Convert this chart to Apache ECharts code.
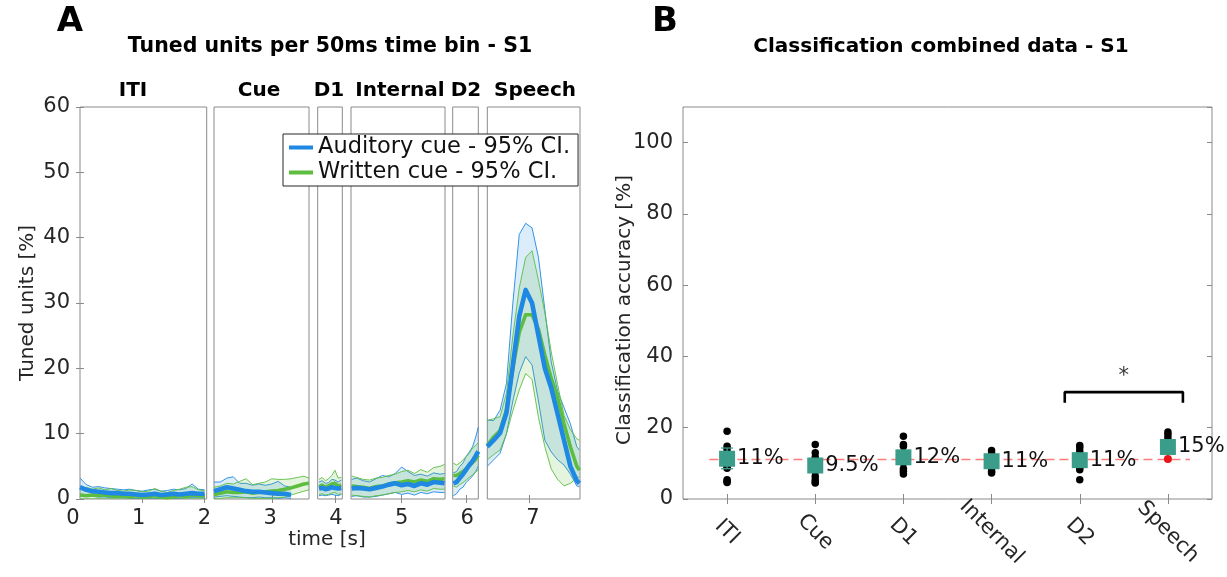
<!DOCTYPE html>
<html><head><meta charset="utf-8">
<script src="https://cdn.jsdelivr.net/npm/echarts@6/dist/echarts.min.js"></script>
<style>html,body{margin:0;padding:0;background:#fff}#c{width:1227px;height:577px}</style>
</head><body><div id="c"></div>
<script>
// ---------------- Panel A data (tuned units, %) ----------------
const segNames = ['ITI', 'Cue', 'D1', 'Internal', 'D2', 'Speech'];

const itiT = [0, 0.1, 0.2, 0.3, 0.4, 0.5, 0.6, 0.7, 0.8, 0.9, 1.0, 1.1, 1.2, 1.3, 1.4, 1.5, 1.6, 1.7, 1.8, 1.9, 2.0];
const itiAudMean = [1.8, 1.4, 1.2, 1.1, 1.0, 0.9, 0.9, 0.8, 0.8, 0.7, 0.6, 0.7, 0.8, 0.6, 0.7, 0.8, 0.7, 0.8, 0.9, 0.8, 0.8];
const itiAudHi = [3.2, 2.2, 1.8, 1.9, 1.7, 1.6, 1.5, 1.4, 1.5, 1.3, 1.2, 1.4, 1.5, 1.2, 1.3, 1.5, 1.4, 1.6, 2.3, 1.5, 1.4];
const itiAudLo = [0.6, 0.5, 0.4, 0.3, 0.3, 0.2, 0.2, 0.2, 0.1, 0.1, 0.0, 0.1, 0.1, 0.0, 0.1, 0.1, 0.1, 0.2, 0.2, 0.2, 0.2];
const itiWriMean = [0.6, 0.5, 0.6, 0.5, 0.6, 0.5, 0.4, 0.5, 0.4, 0.5, 0.3, 0.4, 0.5, 0.3, 0.2, 0.4, 0.5, 0.4, 0.6, 0.5, 0.5];
const itiWriHi = [1.6, 1.8, 1.5, 1.7, 1.4, 1.6, 1.3, 1.2, 1.4, 1.3, 1.1, 1.2, 1.6, 1.2, 1.0, 1.3, 1.5, 1.8, 1.9, 1.4, 1.3];
const itiWriLo = [0, 0, 0, 0, 0, 0, 0, 0, 0, 0, 0, 0, 0, 0, 0, 0, 0, 0, 0, 0, 0];

const cueT = [2.1, 2.2, 2.3, 2.4, 2.5, 2.6, 2.7, 2.8, 2.9, 3.0, 3.1, 3.2, 3.3, 3.4, 3.5, 3.58];
const cueAudMean = [1.2, 1.5, 1.8, 1.6, 1.4, 1.2, 1.1, 1.1, 1.0, 0.9, 0.8, 0.8, 0.6, null, null, null];
const cueAudHi = [2.6, 2.6, 3.2, 3.4, 2.4, 2.4, 2.1, 2.3, 2.1, 2.3, 2.7, 2.0, 1.8, null, null, null];
const cueAudLo = [0.3, 0.4, 0.5, 0.4, 0.3, 0.2, 0.2, 0.3, 0.2, 0.2, 0.1, 0.2, 0.1, null, null, null];
const cueWriMean = [0.7, 0.9, 1.1, 1.0, 1.0, 1.1, 0.9, 1.0, 1.1, 1.2, 1.3, 1.5, 1.7, 2.0, 2.3, 2.4];
const cueWriHi = [1.8, 2.0, 2.4, 2.3, 2.7, 3.1, 2.2, 2.4, 2.6, 3.1, 3.0, 3.0, 3.1, 3.3, 3.5, 3.2];
const cueWriLo = [0.1, 0.1, 0.2, 0.2, 0.2, 0.2, 0.1, 0.1, 0.1, 0.1, 0.2, 0.3, 0.6, 0.9, 1.2, 1.4];

const d1T = [3.75, 3.8, 3.85, 3.9, 3.95, 4.0, 4.05, 4.1];
const d1AudMean = [1.6, 1.7, 1.5, 1.6, 1.8, 1.7, 1.6, 1.7];
const d1AudHi = [2.6, 2.8, 2.4, 2.5, 3.0, 2.9, 2.6, 2.9];
const d1AudLo = [0.5, 0.6, 0.5, 0.6, 0.7, 0.6, 0.5, 0.7];
const d1WriMean = [1.9, 2.1, 1.8, 2.0, 2.3, 2.4, 2.0, 2.1];
const d1WriHi = [3.0, 3.3, 2.8, 3.1, 3.6, 4.4, 3.2, 3.3];
const d1WriLo = [0.7, 0.8, 0.6, 0.7, 0.9, 1.0, 0.7, 0.8];

const intT = [4.22, 4.3, 4.4, 4.5, 4.6, 4.7, 4.8, 4.9, 5.0, 5.1, 5.2, 5.3, 5.4, 5.5, 5.6, 5.67];
const intAudMean = [1.6, 1.7, 1.6, 1.5, 1.7, 1.9, 2.2, 2.4, 2.1, 2.3, 2.0, 2.4, 2.2, 2.6, 2.5, 2.4];
const intAudHi = [3.0, 3.2, 2.8, 2.6, 3.1, 3.6, 3.4, 3.9, 4.9, 4.2, 3.6, 3.8, 3.5, 4.0, 3.8, 3.9];
const intAudLo = [0.4, 0.5, 0.3, 0.3, 0.4, 0.6, 0.8, 1.0, 0.7, 0.9, 0.6, 1.0, 0.8, 1.1, 1.0, 1.0];
const intWriMean = [2.0, 1.9, 1.8, 1.6, 1.9, 2.0, 2.3, 2.5, 2.6, 2.8, 2.6, 2.9, 2.7, 3.1, 3.0, 3.1];
const intWriHi = [3.5, 3.3, 3.0, 2.9, 3.2, 3.3, 3.6, 3.8, 4.2, 4.4, 3.9, 4.5, 4.1, 4.8, 5.0, 5.3];
const intWriLo = [0.6, 0.5, 0.4, 0.3, 0.5, 0.6, 0.8, 1.0, 1.1, 1.3, 1.1, 1.4, 1.2, 1.6, 1.5, 1.5];

const d2T = [5.8, 5.85, 5.9, 5.95, 6.0, 6.05, 6.1, 6.15, 6.19];
const d2AudMean = [2.4, 2.6, 3.2, 3.8, 4.5, 5.2, 5.8, 6.6, 7.3];
const d2AudHi = [4.0, 4.2, 5.0, 5.5, 6.5, 7.2, 8.0, 9.5, 11.0];
const d2AudLo = [0.5, 0.8, 1.5, 1.8, 2.5, 3.0, 3.5, 4.2, 5.0];
const d2WriMean = [3.6, 3.6, 3.9, 4.2, 4.6, 5.1, 5.6, 6.1, 6.7];
const d2WriHi = [5.5, 5.2, 5.5, 6.0, 6.5, 7.0, 7.8, 8.2, 8.6];
const d2WriLo = [2.0, 1.8, 2.2, 2.5, 2.9, 3.3, 3.7, 4.1, 4.5];

const spT = [6.35, 6.45, 6.55, 6.65, 6.75, 6.85, 6.95, 7.05, 7.15, 7.25, 7.35, 7.45, 7.55, 7.65, 7.75, 7.79];
const spAudMean = [8.0, 9.0, 10.1, 13.2, 20.5, 28.0, 32.0, 30.0, 25.0, 20.0, 17.0, 13.0, 9.0, 5.0, 2.8, 2.4];
const spAudHi = [12.1, 12.0, 13.6, 17.7, 30.0, 40.5, 42.2, 41.5, 37.0, 29.0, 21.0, 16.5, 14.0, 11.5, 8.0, 7.5];
const spAudLo = [5.0, 6.0, 7.0, 10.0, 15.0, 19.3, 21.8, 20.5, 15.0, 9.0, 7.2, 6.0, 5.2, 3.8, 2.0, 1.9];
const spWriMean = [8.2, 9.5, 10.5, 13.6, 20.0, 25.5, 28.2, 28.2, 26.0, 22.0, 18.5, 15.5, 11.5, 8.0, 5.0, 4.4];
const spWriHi = [12.0, 12.3, 12.6, 16.2, 25.0, 32.3, 37.0, 38.0, 33.5, 28.5, 22.5, 17.5, 12.8, 10.6, 9.2, 9.0];
const spWriLo = [6.0, 6.8, 7.5, 10.0, 13.5, 16.7, 19.2, 18.3, 12.5, 8.0, 4.6, 3.0, 2.0, 2.4, 3.2, 3.4];

const yTicksA = { min: 0, max: 60, step: 10 };
const timeTickMax = 7;

// ---------------- Panel B data (classification accuracy, %) ----------------
const bCats = ['ITI', 'Cue', 'D1', 'Internal', 'D2', 'Speech'];
const bMeans = [11.3, 9.4, 11.7, 10.6, 10.9, 14.6];
const bErrLo = [8.5, 8.0, 10.0, 9.3, 9.4, 13.2];
const bErrHi = [14.3, 11.0, 13.4, 12.0, 12.5, 16.0];
const bLabels = ['11%', '9.5%', '12%', '11%', '11%', '15%'];
const dotsITI = [19.0, 14.8, 13.9, 12.0, 10.5, 9.2, 8.6, 5.4, 5.0, 4.6];
const dotsCue = [15.3, 13.0, 11.7, 10.5, 9.0, 7.8, 6.4, 5.4, 4.8, 4.5];
const dotsD1 = [17.6, 15.3, 14.8, 13.0, 11.5, 10.1, 8.5, 7.8, 7.0];
const dotsInternal = [13.6, 12.8, 12.0, 11.0, 10.0, 9.5, 8.7, 7.8, 7.3];
const dotsD2 = [15.0, 14.4, 13.4, 12.0, 10.5, 9.5, 8.7, 8.2, 5.4];
const dotsSpeech = [18.8, 18.1, 17.2, 16.0, 15.0, 14.0, 13.5];
const redDotCats = ['Speech'];
const redDotVals = [11.2];
const chanceLevel = 11.1;
const chanceFrom = 0.8, chanceTo = 6.25;
const sigFrom = 4.83, sigTo = 6.17, sigTop = 30, sigLegBottom = 27, sigStarY = 34.5;

// ---------------- layout / style ----------------
const FF = 'DejaVu Sans';
const TXT = '#262626';
const BOX = '#8a8a8a';
const BLUE = '#1f88e3', GREEN = '#5cbd3f';
const BLUE_FILL = 'rgba(31,136,227,0.16)', GREEN_FILL = 'rgba(92,189,63,0.17)';
const TEAL = '#3a9d89';

const boxPx = [[80, 206.7], [214, 309], [317.7, 342.3], [351, 445], [452.7, 478.3], [487.3, 580]];
const boxTime = [[0, 2.034], [2.1, 3.58], [3.73, 4.115], [4.21, 5.677], [5.79, 6.19], [6.35, 7.8]];
const boxTicks = [[1, 2], [3], [4], [5], [6], [7]];
const segLabelX = [133, 259, 329, 400, 466, 535];
const plotTop = 107, plotH = 392;

const segData = [
  [itiT, itiAudMean, itiAudLo, itiAudHi, itiWriMean, itiWriLo, itiWriHi],
  [cueT, cueAudMean, cueAudLo, cueAudHi, cueWriMean, cueWriLo, cueWriHi],
  [d1T, d1AudMean, d1AudLo, d1AudHi, d1WriMean, d1WriLo, d1WriHi],
  [intT, intAudMean, intAudLo, intAudHi, intWriMean, intWriLo, intWriHi],
  [d2T, d2AudMean, d2AudLo, d2AudHi, d2WriMean, d2WriLo, d2WriHi],
  [spT, spAudMean, spAudLo, spAudHi, spWriMean, spWriLo, spWriHi]
];

const grids = [], xAxes = [], yAxes = [], series = [];

function band(i, t, lo, hi, stroke, fill, z) {
  const data = t.map((x, k) => [x, lo[k], hi[k]]);
  return {
    type: 'custom', name: 'band', xAxisIndex: 2 * i, yAxisIndex: 2 * i, z, silent: true, clip: true,
    data, encode: { x: 0, y: [1, 2] },
    renderItem(params, api) {
      if (params.dataIndex !== 0) return null;
      const up = [], dn = [];
      for (const d of data) {
        if (d[1] == null || d[2] == null) continue;
        up.push(api.coord([d[0], d[2]]));
        dn.push(api.coord([d[0], d[1]]));
      }
      const poly = up.concat(dn.slice().reverse());
      return { type: 'group', children: [
        { type: 'polygon', shape: { points: poly }, style: { fill, stroke: null } },
        { type: 'polyline', shape: { points: up }, style: { stroke, lineWidth: 0.9, fill: null } },
        { type: 'polyline', shape: { points: dn }, style: { stroke, lineWidth: 0.9, fill: null } }
      ] };
    }
  };
}
function meanLine(i, t, v, name, color, width, z) {
  return { type: 'line', name, xAxisIndex: 2 * i, yAxisIndex: 2 * i, z, silent: true, clip: true,
    data: t.map((x, k) => [x, v[k]]), showSymbol: false, symbol: 'none', connectNulls: false,
    lineStyle: { color, width, join: 'round' }, itemStyle: { color } };
}

for (let i = 0; i < 6; i++) {
  const [L, R] = boxPx[i];
  grids.push({ left: L, top: plotTop, width: R - L, height: plotH, show: true, borderColor: BOX, borderWidth: 1,
    backgroundColor: 'rgba(0,0,0,0)', containLabel: false, outerBoundsMode: 'none' });
  const xCommon = { gridIndex: i, type: 'value', min: boxTime[i][0], max: boxTime[i][1],
    axisLine: { show: false }, axisLabel: { show: false }, splitLine: { show: false },
    axisTick: { show: true, inside: true, length: 4, customValues: boxTicks[i], lineStyle: { color: BOX } } };
  xAxes.push(Object.assign({ position: 'bottom' }, xCommon));
  xAxes.push(Object.assign({ position: 'top' }, xCommon));
  const isFirst = i === 0;
  yAxes.push({ gridIndex: i, type: 'value', min: yTicksA.min, max: yTicksA.max, interval: yTicksA.step, position: 'left',
    axisLine: { show: false }, splitLine: { show: false },
    axisTick: { show: isFirst, inside: true, length: 4, lineStyle: { color: BOX } },
    axisLabel: { show: isFirst, margin: 10, fontSize: 21, fontFamily: FF, color: TXT } });
  yAxes.push({ gridIndex: i, type: 'value', min: yTicksA.min, max: yTicksA.max, interval: yTicksA.step, position: 'right',
    axisLine: { show: false }, splitLine: { show: false }, axisLabel: { show: false },
    axisTick: { show: isFirst, inside: true, length: 4, lineStyle: { color: BOX } } });
  const [t, aM, aLo, aHi, wM, wLo, wHi] = segData[i];
  series.push(band(i, t, aLo, aHi, BLUE, BLUE_FILL, 2));
  series.push(band(i, t, wLo, wHi, GREEN, GREEN_FILL, 3));
  series.push(meanLine(i, t, wM, 'Written cue - 95% CI.', GREEN, 3.6, 4));
  series.push(meanLine(i, t, aM, 'Auditory cue - 95% CI.', BLUE, 4.6, 5));
}

// time labels axis (grid 6)
grids.push({ left: 73, top: 498, width: 460, height: 1, show: false, containLabel: false, outerBoundsMode: 'none' });
xAxes.push({ gridIndex: 6, type: 'value', min: 0, max: timeTickMax, interval: 1,
  axisLine: { show: false }, axisTick: { show: false }, splitLine: { show: false },
  axisLabel: { show: true, margin: 9, fontSize: 21, fontFamily: FF, color: TXT } });
yAxes.push({ gridIndex: 6, type: 'value', show: false });

// Panel B (grid 7)
const bL = 683, bR = 1212;
grids.push({ left: bL, top: plotTop, width: bR - bL, height: plotH, show: true, borderColor: BOX, borderWidth: 1,
  backgroundColor: 'rgba(0,0,0,0)', containLabel: false, outerBoundsMode: 'none' });
xAxes.push({ gridIndex: 7, type: 'category', data: bCats, position: 'bottom', boundaryGap: true,
  axisLine: { show: false }, splitLine: { show: false },
  axisTick: { show: true, inside: true, alignWithLabel: true, length: 5, lineStyle: { color: BOX } },
  axisLabel: { rotate: -45, margin: 33, align: 'center', verticalAlign: 'middle', fontSize: 21, fontFamily: FF, color: TXT } }); // 13
xAxes.push({ gridIndex: 7, type: 'category', data: bCats, position: 'top', boundaryGap: true,
  axisLine: { show: false }, splitLine: { show: false }, axisLabel: { show: false },
  axisTick: { show: true, inside: true, alignWithLabel: true, length: 5, lineStyle: { color: BOX } } }); // 14
xAxes.push({ gridIndex: 7, type: 'value', min: 0.5, max: 6.5, show: false });                      // 15
yAxes.push({ gridIndex: 7, type: 'value', min: 0, max: 110, interval: 20, position: 'left',
  axisLine: { show: false }, splitLine: { show: false },
  axisTick: { show: true, inside: true, length: 5, lineStyle: { color: BOX } },
  axisLabel: { margin: 10, fontSize: 21, fontFamily: FF, color: TXT, showMaxLabel: false } });      // 13
yAxes.push({ gridIndex: 7, type: 'value', min: 0, max: 110, interval: 20, position: 'right',
  axisLine: { show: false }, splitLine: { show: false }, axisLabel: { show: false },
  axisTick: { show: true, inside: true, length: 5, lineStyle: { color: BOX } } });                 // 14

series.push({ type: 'line', name: 'chance', xAxisIndex: 15, yAxisIndex: 13, z: 2, silent: true, symbol: 'none',
  data: [[chanceFrom, chanceLevel], [chanceTo, chanceLevel]],
  lineStyle: { color: '#ff7b7b', width: 1.6, type: [9, 5] } });
const allDots = [dotsITI, dotsCue, dotsD1, dotsInternal, dotsD2, dotsSpeech];
const dotData = [];
allDots.forEach((arr, ci) => arr.forEach(v => dotData.push([bCats[ci], v])));
series.push({ type: 'scatter', name: 'runs', xAxisIndex: 13, yAxisIndex: 13, z: 3, silent: true,
  symbol: 'circle', symbolSize: 7.5, itemStyle: { color: '#000', opacity: 1 }, data: dotData });
series.push({ type: 'scatter', name: 'chanceRun', xAxisIndex: 13, yAxisIndex: 13, z: 4, silent: true,
  symbol: 'circle', symbolSize: 8, itemStyle: { color: '#e8141a', opacity: 1 },
  data: redDotCats.map((c, k) => [c, redDotVals[k]]) });
series.push({ type: 'custom', name: 'err', xAxisIndex: 13, yAxisIndex: 13, z: 5, silent: true,
  data: bCats.map((c, k) => [k, bErrLo[k], bErrHi[k]]), encode: { x: 0, y: [1, 2] },
  renderItem(params, api) {
    const lo = api.coord([api.value(0), api.value(1)]);
    const hi = api.coord([api.value(0), api.value(2)]);
    const w = 6;
    const st = { stroke: TEAL, lineWidth: 1.3 };
    return { type: 'group', children: [
      { type: 'line', shape: { x1: lo[0], y1: lo[1], x2: hi[0], y2: hi[1] }, style: st },
      { type: 'line', shape: { x1: lo[0] - w, y1: lo[1], x2: lo[0] + w, y2: lo[1] }, style: st },
      { type: 'line', shape: { x1: hi[0] - w, y1: hi[1], x2: hi[0] + w, y2: hi[1] }, style: st }
    ] };
  } });
series.push({ type: 'scatter', name: 'mean', xAxisIndex: 13, yAxisIndex: 13, z: 6, silent: true,
  symbol: 'rect', symbolSize: 16, itemStyle: { color: TEAL, opacity: 1 },
  data: bCats.map((c, k) => [c, bMeans[k]]),
  label: { show: true, position: 'right', distance: 2, fontSize: 21, fontFamily: FF, color: '#111',
    formatter: p => bLabels[p.dataIndex] } });
series.push({ type: 'line', name: 'sig', xAxisIndex: 15, yAxisIndex: 13, z: 6, silent: true, symbol: 'none',
  data: [[sigFrom, sigLegBottom], [sigFrom, sigTop], [sigTo, sigTop], [sigTo, sigLegBottom]],
  lineStyle: { color: '#000', width: 2.6 } });
series.push({ type: 'scatter', name: 'star', xAxisIndex: 15, yAxisIndex: 13, z: 6, silent: true,
  symbolSize: 0, data: [[(sigFrom + sigTo) / 2, sigStarY]],
  label: { show: true, position: 'inside', formatter: '*', fontSize: 21, fontFamily: FF, color: '#000' } });

function txt(x, y, text, size, bold, rot, color) {
  return { type: 'text', x, y, rotation: rot || 0, z: 50, silent: true,
    style: { text, fontSize: size, fontWeight: bold ? 'bold' : 'normal', fontFamily: FF,
      fill: color || '#000', align: 'center', verticalAlign: 'middle' } };
}
const graphics = [
  txt(70, 22, 'A', 34, true),
  txt(330, 47, 'Tuned units per 50ms time bin - S1', 20.5, true),
  txt(665, 22, 'B', 34, true),
  txt(941, 47, 'Classification combined data - S1', 20, true),
  txt(327, 540, 'time [s]', 20, false, 0, TXT),
  txt(28, 303, 'Tuned units [%]', 20, false, Math.PI / 2, TXT),
  txt(625, 310, 'Classification accuracy [%]', 20, false, Math.PI / 2, TXT)
];
segNames.forEach((n, i) => graphics.push(txt(segLabelX[i], 91, n, 20, true)));

const chart = echarts.init(document.getElementById('c'), null, { renderer: 'canvas' });
chart.setOption({
  animation: false,
  backgroundColor: '#fff',
  textStyle: { fontFamily: FF },
  grid: grids, xAxis: xAxes, yAxis: yAxes, series,
  legend: {
    data: ['Auditory cue - 95% CI.', 'Written cue - 95% CI.'],
    orient: 'vertical', left: 283, top: 134, z: 20,
    icon: 'rect', itemWidth: 24, itemHeight: 4, itemGap: 2,
    padding: [2, 8, 2, 6], borderColor: '#262626', borderWidth: 1, backgroundColor: '#fff',
    selectedMode: false,
    textStyle: { fontSize: 22.5, fontFamily: FF, color: '#111' }
  },
  graphic: graphics
});
</script></body></html>
